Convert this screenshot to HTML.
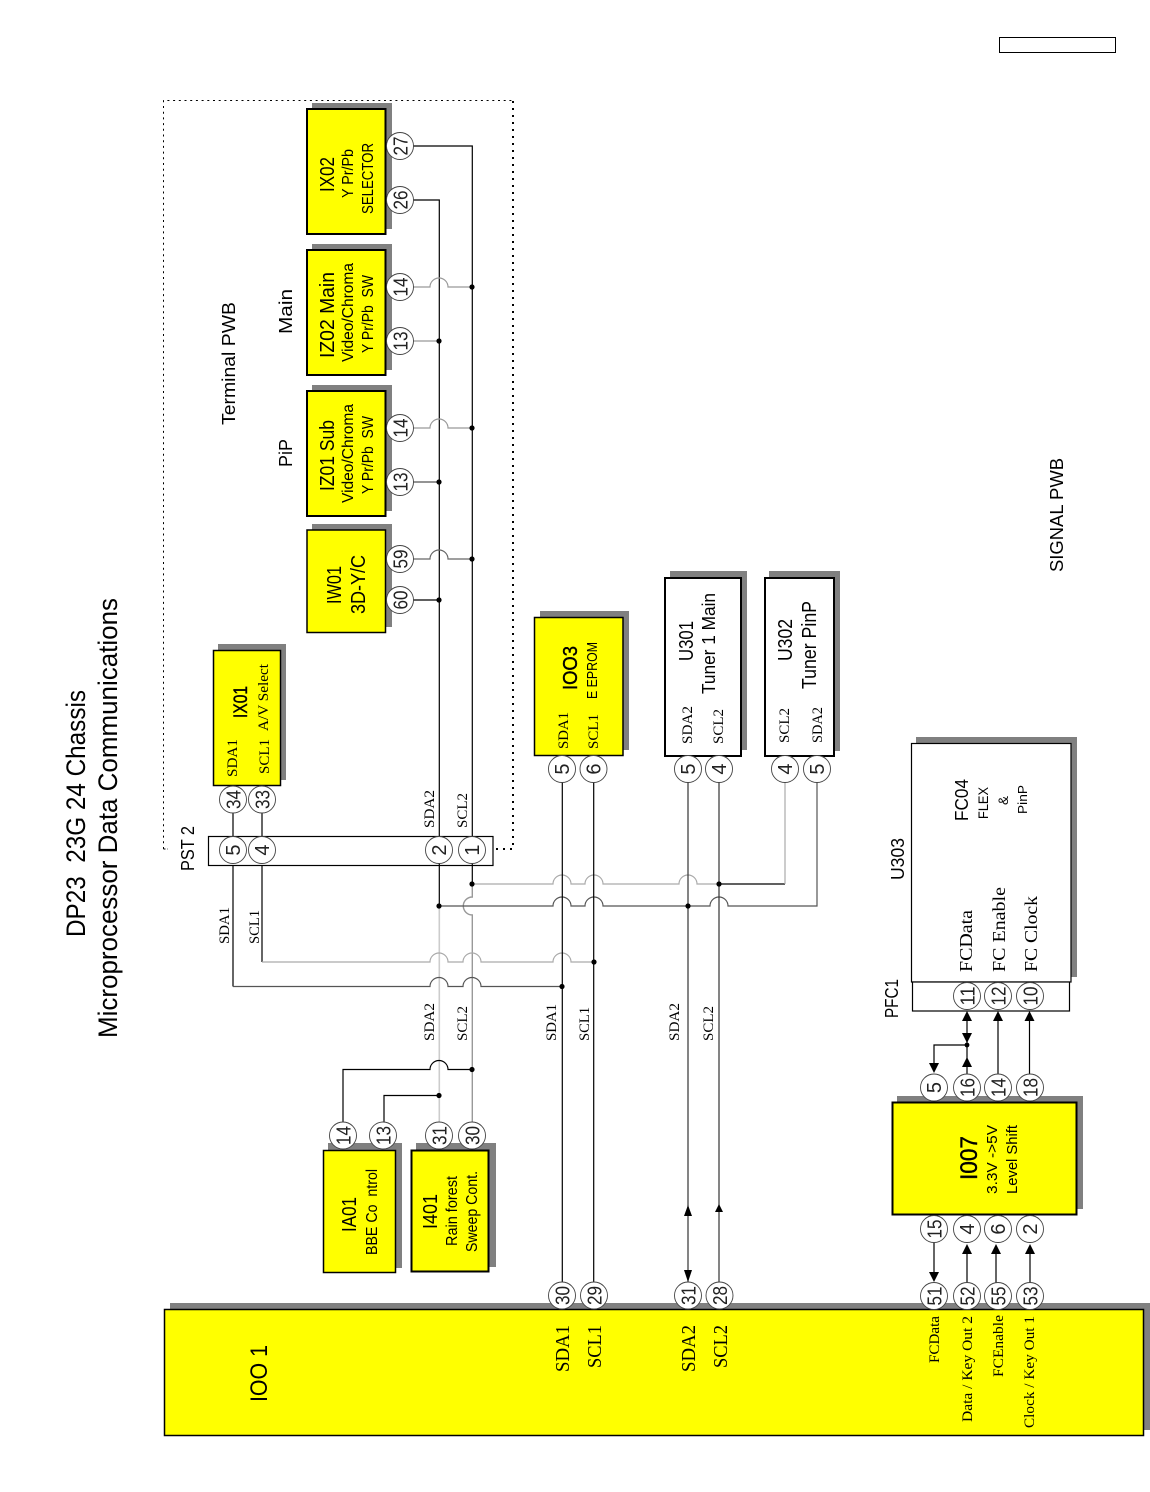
<!DOCTYPE html>
<html lang="en">
<head>
<meta charset="utf-8">
<title>DP23 23G 24 Chassis Microprocessor Data Communications</title>
<style>
html,body{margin:0;padding:0;background:#fff}
svg{display:block}
.s{font-family:"Liberation Sans",sans-serif;fill:#000}
.t{font-family:"Liberation Serif",serif;fill:#000}
.sh{fill:#808080}
.y{fill:#ff0;stroke:#000;stroke-width:2}
.w{fill:#fff;stroke:#000;stroke-width:2}
.l{fill:none;stroke:#000;stroke-width:1.2}
.c{fill:#fff;stroke:#444;stroke-width:.9}
.n{font-family:"Liberation Sans",sans-serif;fill:#222;font-size:20px;text-anchor:middle}
.m{stroke:#000;stroke-width:.4}
</style>
</head>
<body>
<svg xmlns="http://www.w3.org/2000/svg" width="1150" height="1492" viewBox="0 0 1150 1492">
<rect width="1150" height="1492" fill="#fff"/>
<rect x="999.5" y="37.5" width="116" height="15" fill="#fff" stroke="#000"/>

<!-- dotted boundary -->
<path d="M163.5 849V100.5H513" fill="none" stroke="#000" stroke-width="1" stroke-dasharray="2 3.7"/>
<path d="M513 101V849H495" fill="none" stroke="#000" stroke-width="2" stroke-dasharray="2 5"/>
<path d="M163.5 849H168" fill="none" stroke="#000" stroke-width="1" stroke-dasharray="2 2"/>

<!-- shadows -->
<rect class="sh" x="312" y="103" width="80" height="126"/>
<rect class="sh" x="312" y="244" width="80" height="126"/>
<rect class="sh" x="312" y="385" width="80" height="126"/>
<rect class="sh" x="312" y="524" width="80" height="103"/>
<rect class="sh" x="218" y="644" width="68" height="136"/>
<rect class="sh" x="540" y="611" width="89" height="139"/>
<rect class="sh" x="670" y="571" width="77" height="179"/>
<rect class="sh" x="769" y="571" width="71" height="180"/>
<rect class="sh" x="916" y="737" width="161" height="240"/>
<rect class="sh" x="897" y="1096" width="186" height="113"/>
<rect class="sh" x="328" y="1143" width="74" height="125"/>
<rect class="sh" x="416" y="1143" width="80" height="124"/>
<rect class="sh" x="170" y="1303" width="980" height="127"/>

<!-- boxes -->
<rect class="y" x="307" y="109" width="78.500" height="125"/>
<rect class="y" x="307" y="250" width="78.500" height="125"/>
<rect class="y" x="307" y="391" width="78.500" height="125"/>
<rect class="y" x="307" y="530" width="78.500" height="102.500" style="stroke-width:1.500"/>
<rect class="y" x="213.500" y="650.500" width="67" height="135" style="stroke-width:1.500"/>
<rect class="y" x="534.500" y="617.500" width="88.500" height="138" style="stroke-width:1.500"/>
<rect class="w" x="665" y="578" width="76" height="178"/>
<rect class="w" x="765" y="578" width="69" height="178"/>
<rect x="911.500" y="743.500" width="159.500" height="238.500" fill="#fff" stroke="#000" stroke-width="1.200"/>
<rect x="912.500" y="982" width="157" height="29" fill="#fff" stroke="#000" stroke-width="1.200"/>
<rect x="208.500" y="836.500" width="284.500" height="29" fill="#fff" stroke="#000" stroke-width="1.200"/>
<rect class="y" x="892.500" y="1102.500" width="184" height="112"/>
<rect class="y" x="323.500" y="1150.500" width="72" height="122" style="stroke-width:1.500"/>
<rect class="y" x="411.500" y="1150.500" width="77" height="121"/>
<rect x="164.500" y="1309.500" width="979" height="126" fill="#ff0" stroke="#000" stroke-width="1.500"/>

<!-- Terminal PWB wiring -->
<path class="l" d="M413 146H472.300V865" stroke="#333"/>
<path class="l" d="M413 200H439.300V865"/>
<path class="l" style="stroke:#999" d="M413 287H430A9 9 0 0 1 448 287H472"/>
<path class="l" style="stroke:#999" d="M413 341H439"/>
<path class="l" style="stroke:#999" d="M413 428H430A9 9 0 0 1 448 428H472"/>
<path class="l" style="stroke:#555" d="M413 482H439"/>
<path class="l" style="stroke:#666" d="M413 559H430A9 9 0 0 1 448 559H472"/>
<path class="l" d="M413 600H439"/>
<path class="l" d="M233 786V836M262 786V836"/>

<!-- below PST2 -->
<path class="l" d="M233 865V986.500M262 865V962"/>
<path class="l" d="M439.300 865V906M472.300 865V884"/>
<path class="l" style="stroke:#ccc;stroke-width:1.600" d="M439.300 906V1122"/>
<path class="l" style="stroke:#999;stroke-width:1.400" d="M472.300 884V897A9 9 0 0 0 472.300 915V1122"/>
<path class="l" style="stroke:#aaa" d="M262 962H430A9 9 0 0 1 448 962H463A9 9 0 0 1 481 962H553A9 9 0 0 1 571 962H594"/>
<path class="l" style="stroke:#555" d="M233 986.500H430A9 9 0 0 1 448 986.500H463A9 9 0 0 1 481 986.500H562"/>
<path class="l" style="stroke:#aaa" d="M472 884H553A9 9 0 0 1 571 884H585A9 9 0 0 1 603 884H679A9 9 0 0 1 697 884H719"/>
<path class="l" d="M719 884H785"/>
<path class="l" style="stroke:#aaa" d="M785 884V782"/>
<path class="l" style="stroke:#555" d="M439 906H553A9 9 0 0 1 571 906H585A9 9 0 0 1 603 906H710A9 9 0 0 1 728 906H817V782"/>
<path class="l" d="M343 1122V1069.500H430A9 9 0 0 1 448 1069.500H472"/>
<path class="l" d="M384 1122V1095.500H439"/>

<!-- main verticals -->
<path class="l" d="M562.300 782V1282M593.700 782V1282"/>
<path class="l" style="stroke:#333" d="M688 782V1282M719 782V1282"/>
<path d="M688 1205L692 1216H684ZM688 1282L692 1270H684ZM719 1204L723 1212H715Z" fill="#000"/>

<!-- level shift connections -->
<path class="l" d="M934 1243V1275M967 1250V1283M996 1250V1283M1030 1250V1283"/>
<path d="M934 1282L939 1272H929ZM967 1244L972 1254H962ZM996 1244L1001 1254H991ZM1030 1244L1035 1254H1025Z" fill="#000"/>
<path class="l" d="M967 1074V1018M998 1074V1018M1029.500 1074V1018M967 1045H934V1066"/>
<path d="M967 1011L972 1021H962ZM967 1043L972 1033H962ZM967 1057L972 1067H962ZM934 1073L939 1063H929ZM998 1011L1003 1021H993ZM1029.500 1011L1034.500 1021H1024.500Z" fill="#000"/>

<!-- junction dots -->
<g fill="#000">
<circle cx="472" cy="287" r="2.600"/><circle cx="439" cy="341" r="2.600"/>
<circle cx="472" cy="428" r="2.600"/><circle cx="439" cy="482" r="2.600"/>
<circle cx="472" cy="559" r="2.600"/><circle cx="439" cy="600" r="2.600"/>
<circle cx="472" cy="884" r="2.600"/><circle cx="439" cy="906" r="2.600"/>
<circle cx="719" cy="884" r="2.600"/><circle cx="688" cy="906" r="2.600"/>
<circle cx="594" cy="962" r="2.600"/><circle cx="562" cy="986.500" r="2.600"/>
<circle cx="472" cy="1069.500" r="2.600"/><circle cx="439" cy="1095.500" r="2.600"/>
<circle cx="967" cy="1045" r="2.400"/>
</g>

<!-- pin circles -->
<g class="c">
<circle cx="400" cy="146" r="13.500"/><circle cx="400" cy="200" r="13.500"/>
<circle cx="400" cy="287" r="13.500"/><circle cx="400" cy="341" r="13.500"/>
<circle cx="400" cy="428" r="13.500"/><circle cx="400" cy="482" r="13.500"/>
<circle cx="400" cy="559" r="13.500"/><circle cx="400" cy="600" r="13.500"/>
<circle cx="233" cy="799.500" r="13.500"/><circle cx="262" cy="799.500" r="13.500"/>
<circle cx="233" cy="850" r="13.500"/><circle cx="262" cy="850" r="13.500"/>
<circle cx="439" cy="850" r="13.500"/><circle cx="472" cy="850" r="13.500"/>
<circle cx="562" cy="769" r="13.500"/><circle cx="593.500" cy="769" r="13.500"/>
<circle cx="688" cy="769" r="13.500"/><circle cx="719" cy="769" r="13.500"/>
<circle cx="785" cy="769" r="13.500"/><circle cx="817" cy="769" r="13.500"/>
<circle cx="343" cy="1135.500" r="13.500"/><circle cx="383" cy="1135.500" r="13.500"/>
<circle cx="439" cy="1135.500" r="13.500"/><circle cx="472" cy="1135.500" r="13.500"/>
<circle cx="562" cy="1295.500" r="13.500"/><circle cx="594" cy="1295.500" r="13.500"/>
<circle cx="688" cy="1295.500" r="13.500"/><circle cx="719.500" cy="1295.500" r="13.500"/>
<circle cx="934" cy="1296" r="13.500"/><circle cx="967" cy="1296" r="13.500"/>
<circle cx="998" cy="1296" r="13.500"/><circle cx="1030" cy="1296" r="13.500"/>
<circle cx="934" cy="1229" r="13.500"/><circle cx="967" cy="1229" r="13.500"/>
<circle cx="998" cy="1229" r="13.500"/><circle cx="1030" cy="1229" r="13.500"/>
<circle cx="934" cy="1087.500" r="13.500"/><circle cx="967" cy="1087.500" r="13.500"/>
<circle cx="998" cy="1087.500" r="13.500"/><circle cx="1030" cy="1087.500" r="13.500"/>
<circle cx="967" cy="996" r="13.500"/><circle cx="998" cy="996" r="13.500"/><circle cx="1030" cy="996" r="13.500"/>
</g>

<!-- pin numbers -->
<g class="n">
<text transform="translate(407.500 146) rotate(-90)" textLength="19" lengthAdjust="spacingAndGlyphs">27</text>
<text transform="translate(407.500 200) rotate(-90)" textLength="19" lengthAdjust="spacingAndGlyphs">26</text>
<text transform="translate(407.500 287) rotate(-90)" textLength="19" lengthAdjust="spacingAndGlyphs">14</text>
<text transform="translate(407.500 341) rotate(-90)" textLength="19" lengthAdjust="spacingAndGlyphs">13</text>
<text transform="translate(407.500 428) rotate(-90)" textLength="19" lengthAdjust="spacingAndGlyphs">14</text>
<text transform="translate(407.500 482) rotate(-90)" textLength="19" lengthAdjust="spacingAndGlyphs">13</text>
<text transform="translate(407.500 559) rotate(-90)" textLength="19" lengthAdjust="spacingAndGlyphs">59</text>
<text transform="translate(407.500 600) rotate(-90)" textLength="19" lengthAdjust="spacingAndGlyphs">60</text>
<text transform="translate(240.500 799.500) rotate(-90)" textLength="19" lengthAdjust="spacingAndGlyphs">34</text>
<text transform="translate(269.500 799.500) rotate(-90)" textLength="19" lengthAdjust="spacingAndGlyphs">33</text>
<text transform="translate(240 850) rotate(-90)">5</text>
<text transform="translate(269 850) rotate(-90)">4</text>
<text transform="translate(446 850) rotate(-90)">2</text>
<text transform="translate(479 850) rotate(-90)">1</text>
<text transform="translate(569 769) rotate(-90)">5</text>
<text transform="translate(600.500 769) rotate(-90)">6</text>
<text transform="translate(695 769) rotate(-90)">5</text>
<text transform="translate(726 769) rotate(-90)">4</text>
<text transform="translate(792 769) rotate(-90)">4</text>
<text transform="translate(824 769) rotate(-90)">5</text>
<text transform="translate(350.500 1135.500) rotate(-90)" textLength="19" lengthAdjust="spacingAndGlyphs">14</text>
<text transform="translate(390.500 1135.500) rotate(-90)" textLength="19" lengthAdjust="spacingAndGlyphs">13</text>
<text transform="translate(446.500 1135.500) rotate(-90)" textLength="19" lengthAdjust="spacingAndGlyphs">31</text>
<text transform="translate(479.500 1135.500) rotate(-90)" textLength="19" lengthAdjust="spacingAndGlyphs">30</text>
<text transform="translate(569.500 1295.500) rotate(-90)" textLength="19" lengthAdjust="spacingAndGlyphs">30</text>
<text transform="translate(601.500 1295.500) rotate(-90)" textLength="19" lengthAdjust="spacingAndGlyphs">29</text>
<text transform="translate(695.500 1295.500) rotate(-90)" textLength="19" lengthAdjust="spacingAndGlyphs">31</text>
<text transform="translate(727 1295.500) rotate(-90)" textLength="19" lengthAdjust="spacingAndGlyphs">28</text>
<text transform="translate(941.500 1296) rotate(-90)" textLength="19" lengthAdjust="spacingAndGlyphs">51</text>
<text transform="translate(974.500 1296) rotate(-90)" textLength="19" lengthAdjust="spacingAndGlyphs">52</text>
<text transform="translate(1005.500 1296) rotate(-90)" textLength="19" lengthAdjust="spacingAndGlyphs">55</text>
<text transform="translate(1037.500 1296) rotate(-90)" textLength="19" lengthAdjust="spacingAndGlyphs">53</text>
<text transform="translate(941.500 1229) rotate(-90)" textLength="19" lengthAdjust="spacingAndGlyphs">15</text>
<text transform="translate(974 1229) rotate(-90)">4</text>
<text transform="translate(1005 1229) rotate(-90)">6</text>
<text transform="translate(1037 1229) rotate(-90)">2</text>
<text transform="translate(941 1087.500) rotate(-90)">5</text>
<text transform="translate(974.500 1087.500) rotate(-90)" textLength="19" lengthAdjust="spacingAndGlyphs">16</text>
<text transform="translate(1005.500 1087.500) rotate(-90)" textLength="19" lengthAdjust="spacingAndGlyphs">14</text>
<text transform="translate(1037.500 1087.500) rotate(-90)" textLength="19" lengthAdjust="spacingAndGlyphs">18</text>
<text transform="translate(974.500 996) rotate(-90)" textLength="19" lengthAdjust="spacingAndGlyphs">11</text>
<text transform="translate(1005.500 996) rotate(-90)" textLength="19" lengthAdjust="spacingAndGlyphs">12</text>
<text transform="translate(1037.500 996) rotate(-90)" textLength="19" lengthAdjust="spacingAndGlyphs">10</text>
</g>

<!-- sans labels -->
<g class="s">
<text transform="translate(85 937) rotate(-90)" font-size="27" textLength="247" lengthAdjust="spacingAndGlyphs" xml:space="preserve">DP23  23G 24 Chassis</text>
<text transform="translate(117 1038) rotate(-90)" font-size="27" textLength="440" lengthAdjust="spacingAndGlyphs">Microprocessor Data Communications</text>
<text transform="translate(235 425) rotate(-90)" font-size="18" textLength="123" lengthAdjust="spacingAndGlyphs">Terminal PWB</text>
<text transform="translate(292 334) rotate(-90)" font-size="18" textLength="45" lengthAdjust="spacingAndGlyphs">Main</text>
<text transform="translate(292 467) rotate(-90)" font-size="18" textLength="28" lengthAdjust="spacingAndGlyphs">PiP</text>
<text transform="translate(1063 572) rotate(-90)" font-size="18" textLength="114" lengthAdjust="spacingAndGlyphs">SIGNAL PWB</text>
<text transform="translate(334 192) rotate(-90)" font-size="20" textLength="35" lengthAdjust="spacingAndGlyphs">IX02</text>
<text transform="translate(353 198) rotate(-90)" font-size="16" textLength="49" lengthAdjust="spacingAndGlyphs">Y Pr/Pb</text>
<text transform="translate(373 214) rotate(-90)" font-size="16" textLength="71" lengthAdjust="spacingAndGlyphs">SELECTOR</text>
<text transform="translate(334 358) rotate(-90)" font-size="20" textLength="86" lengthAdjust="spacingAndGlyphs">IZ02 Main</text>
<text transform="translate(353 362) rotate(-90)" font-size="16" textLength="99" lengthAdjust="spacingAndGlyphs">Video/Chroma</text>
<text transform="translate(373 353) rotate(-90)" font-size="16" textLength="78" lengthAdjust="spacingAndGlyphs" xml:space="preserve">Y Pr/Pb  SW</text>
<text transform="translate(334 491) rotate(-90)" font-size="20" textLength="71" lengthAdjust="spacingAndGlyphs">IZ01 Sub</text>
<text transform="translate(353 503) rotate(-90)" font-size="16" textLength="99" lengthAdjust="spacingAndGlyphs">Video/Chroma</text>
<text transform="translate(373 494) rotate(-90)" font-size="16" textLength="78" lengthAdjust="spacingAndGlyphs" xml:space="preserve">Y Pr/Pb  SW</text>
<text transform="translate(341 604) rotate(-90)" font-size="20" textLength="38" lengthAdjust="spacingAndGlyphs">IW01</text>
<text transform="translate(365 614) rotate(-90)" font-size="20" textLength="59" lengthAdjust="spacingAndGlyphs">3D-Y/C</text>
<text class="m" transform="translate(247 718) rotate(-90)" font-size="19" textLength="32" lengthAdjust="spacingAndGlyphs">IX01</text>
<text transform="translate(194 871) rotate(-90)" font-size="18" textLength="45" lengthAdjust="spacingAndGlyphs">PST 2</text>
<text transform="translate(356 1232) rotate(-90)" font-size="20" textLength="35" lengthAdjust="spacingAndGlyphs">IA01</text>
<text transform="translate(377 1255) rotate(-90)" font-size="16" textLength="86" lengthAdjust="spacingAndGlyphs" xml:space="preserve">BBE Co  ntrol</text>
<text transform="translate(437 1229) rotate(-90)" font-size="20" textLength="35" lengthAdjust="spacingAndGlyphs">I401</text>
<text transform="translate(457 1246) rotate(-90)" font-size="16" textLength="70" lengthAdjust="spacingAndGlyphs">Rain forest</text>
<text transform="translate(477 1252) rotate(-90)" font-size="16" textLength="81" lengthAdjust="spacingAndGlyphs">Sweep Cont.</text>
<text class="m" transform="translate(577 690) rotate(-90)" font-size="20" textLength="44" lengthAdjust="spacingAndGlyphs">IOO3</text>
<text transform="translate(597 699) rotate(-90)" font-size="15" textLength="57" lengthAdjust="spacingAndGlyphs">E EPROM</text>
<text transform="translate(693 661) rotate(-90)" font-size="20" textLength="40" lengthAdjust="spacingAndGlyphs">U301</text>
<text transform="translate(715 694) rotate(-90)" font-size="18" textLength="101" lengthAdjust="spacingAndGlyphs">Tuner 1 Main</text>
<text transform="translate(792 661) rotate(-90)" font-size="20" textLength="42" lengthAdjust="spacingAndGlyphs">U302</text>
<text transform="translate(816 689) rotate(-90)" font-size="20" textLength="88" lengthAdjust="spacingAndGlyphs">Tuner PinP</text>
<text transform="translate(904 880) rotate(-90)" font-size="18" textLength="42" lengthAdjust="spacingAndGlyphs">U303</text>
<text transform="translate(898 1018) rotate(-90)" font-size="18" textLength="39" lengthAdjust="spacingAndGlyphs">PFC1</text>
<text transform="translate(968 821) rotate(-90)" font-size="18" textLength="42" lengthAdjust="spacingAndGlyphs">FC04</text>
<text transform="translate(988 819) rotate(-90)" font-size="14" textLength="32" lengthAdjust="spacingAndGlyphs">FLEX</text>
<text transform="translate(1008 805) rotate(-90)" font-size="14" textLength="9" lengthAdjust="spacingAndGlyphs">&amp;</text>
<text transform="translate(1027 814) rotate(-90)" font-size="13" textLength="29" lengthAdjust="spacingAndGlyphs">PinP</text>
<text class="m" transform="translate(977 1180) rotate(-90)" font-size="24" textLength="44" lengthAdjust="spacingAndGlyphs">I007</text>
<text transform="translate(997 1194) rotate(-90)" font-size="15" textLength="69" lengthAdjust="spacingAndGlyphs">3.3V -&gt;5V</text>
<text transform="translate(1017 1194) rotate(-90)" font-size="15" textLength="69" lengthAdjust="spacingAndGlyphs">Level Shift</text>
<text transform="translate(267 1402) rotate(-90)" font-size="24" textLength="57" lengthAdjust="spacingAndGlyphs">IOO 1</text>
</g>

<!-- serif labels -->
<g class="t">
<text transform="translate(237 777) rotate(-90)" font-size="15" textLength="38" lengthAdjust="spacingAndGlyphs">SDA1</text>
<text transform="translate(269 774) rotate(-90)" font-size="15" textLength="35" lengthAdjust="spacingAndGlyphs">SCL1</text>
<text transform="translate(268 731) rotate(-90)" font-size="15" textLength="67" lengthAdjust="spacingAndGlyphs">A/V Select</text>
<text transform="translate(434 828) rotate(-90)" font-size="15" textLength="38" lengthAdjust="spacingAndGlyphs">SDA2</text>
<text transform="translate(467 828) rotate(-90)" font-size="15" textLength="35" lengthAdjust="spacingAndGlyphs">SCL2</text>
<text transform="translate(229 944) rotate(-90)" font-size="15" textLength="37" lengthAdjust="spacingAndGlyphs">SDA1</text>
<text transform="translate(259 944) rotate(-90)" font-size="15" textLength="34" lengthAdjust="spacingAndGlyphs">SCL1</text>
<text transform="translate(434 1041) rotate(-90)" font-size="15" textLength="38" lengthAdjust="spacingAndGlyphs">SDA2</text>
<text transform="translate(467 1041) rotate(-90)" font-size="15" textLength="35" lengthAdjust="spacingAndGlyphs">SCL2</text>
<text transform="translate(556 1041) rotate(-90)" font-size="15" textLength="37" lengthAdjust="spacingAndGlyphs">SDA1</text>
<text transform="translate(589 1041) rotate(-90)" font-size="15" textLength="34" lengthAdjust="spacingAndGlyphs">SCL1</text>
<text transform="translate(679 1041) rotate(-90)" font-size="15" textLength="38" lengthAdjust="spacingAndGlyphs">SDA2</text>
<text transform="translate(713 1041) rotate(-90)" font-size="15" textLength="35" lengthAdjust="spacingAndGlyphs">SCL2</text>
<text transform="translate(568 749) rotate(-90)" font-size="15" textLength="37" lengthAdjust="spacingAndGlyphs">SDA1</text>
<text transform="translate(598 749) rotate(-90)" font-size="15" textLength="35" lengthAdjust="spacingAndGlyphs">SCL1</text>
<text transform="translate(692 744) rotate(-90)" font-size="15" textLength="38" lengthAdjust="spacingAndGlyphs">SDA2</text>
<text transform="translate(723 744) rotate(-90)" font-size="15" textLength="35" lengthAdjust="spacingAndGlyphs">SCL2</text>
<text transform="translate(789 743) rotate(-90)" font-size="15" textLength="35" lengthAdjust="spacingAndGlyphs">SCL2</text>
<text transform="translate(822 743) rotate(-90)" font-size="15" textLength="36" lengthAdjust="spacingAndGlyphs">SDA2</text>
<text transform="translate(972 972) rotate(-90)" font-size="18" textLength="62" lengthAdjust="spacingAndGlyphs">FCData</text>
<text transform="translate(1005 972) rotate(-90)" font-size="18" textLength="85" lengthAdjust="spacingAndGlyphs">FC Enable</text>
<text transform="translate(1037 972) rotate(-90)" font-size="18" textLength="76" lengthAdjust="spacingAndGlyphs">FC Clock</text>
<text transform="translate(939 1363) rotate(-90)" font-size="15" textLength="47" lengthAdjust="spacingAndGlyphs">FCData</text>
<text transform="translate(972 1422) rotate(-90)" font-size="15" textLength="106" lengthAdjust="spacingAndGlyphs">Data / Key Out 2</text>
<text transform="translate(1003 1377) rotate(-90)" font-size="15" textLength="62" lengthAdjust="spacingAndGlyphs">FCEnable</text>
<text transform="translate(1034 1428) rotate(-90)" font-size="15" textLength="112" lengthAdjust="spacingAndGlyphs">Clock / Key Out 1</text>
<text transform="translate(569 1372) rotate(-90)" font-size="20" textLength="47" lengthAdjust="spacingAndGlyphs">SDA1</text>
<text transform="translate(601 1368) rotate(-90)" font-size="20" textLength="43" lengthAdjust="spacingAndGlyphs">SCL1</text>
<text transform="translate(695 1372) rotate(-90)" font-size="20" textLength="47" lengthAdjust="spacingAndGlyphs">SDA2</text>
<text transform="translate(727 1368) rotate(-90)" font-size="20" textLength="43" lengthAdjust="spacingAndGlyphs">SCL2</text>
</g>
</svg>
</body>
</html>
